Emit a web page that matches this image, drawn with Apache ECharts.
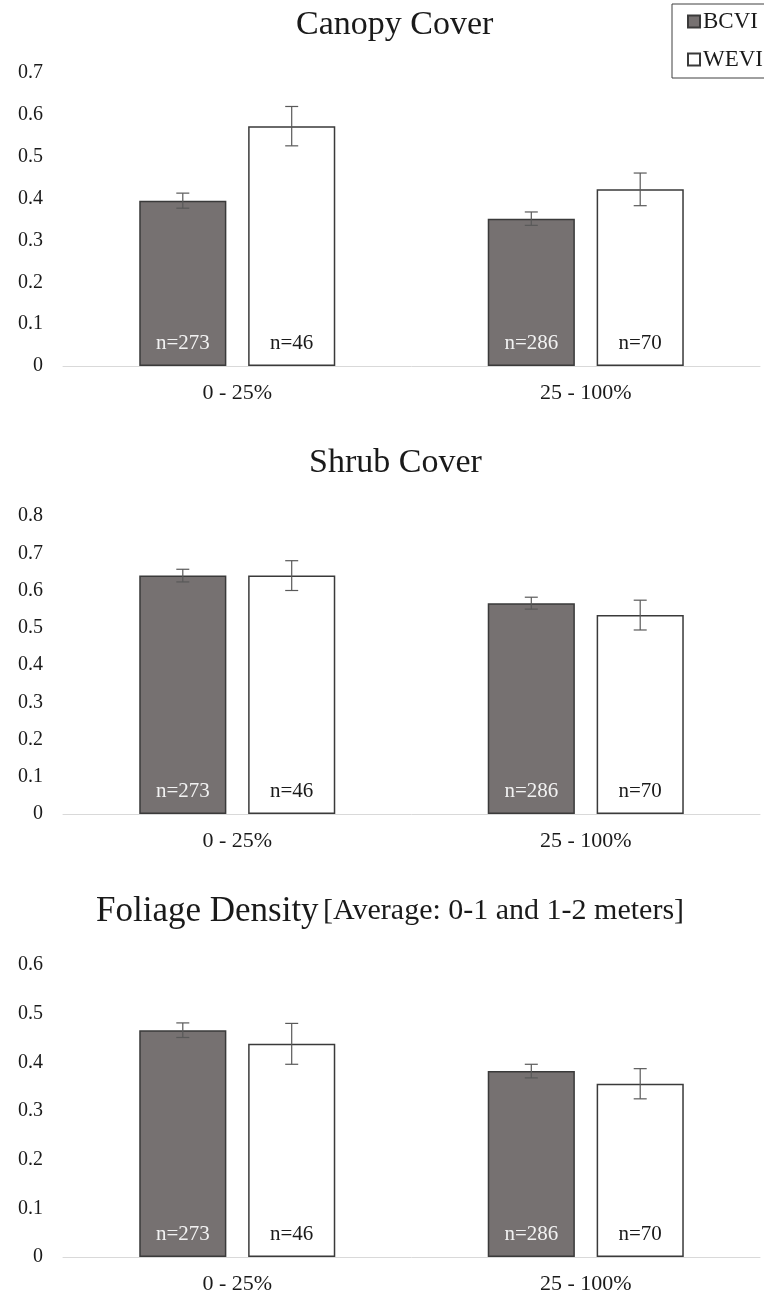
<!DOCTYPE html>
<html>
<head>
<meta charset="utf-8">
<title>Canopy, Shrub, Foliage</title>
<script src="https://cdn.jsdelivr.net/npm/echarts@6/dist/echarts.min.js"></script>
<style>
  html, body { margin: 0; padding: 0; background: #fff; }
  #main { width: 764px; height: 1297px; }
</style>
</head>
<body>
<div id="main"></div>
<script>
// data
var categories = ['0 - 25%', '25 - 100%'];
var nBCVI = [273, 286];
var nWEVI = [46, 70];

var canopyBCVI = [0.395, 0.352];
var canopyBCVIErr = [0.018, 0.016];
var canopyWEVI = [0.573, 0.422];
var canopyWEVIErr = [0.047, 0.039];

var shrubBCVI = [0.640, 0.566];
var shrubBCVIErr = [0.017, 0.016];
var shrubWEVI = [0.640, 0.534];
var shrubWEVIErr = [0.040, 0.040];

var foliageBCVI = [0.466, 0.382];
var foliageBCVIErr = [0.015, 0.014];
var foliageWEVI = [0.438, 0.356];
var foliageWEVIErr = [0.042, 0.031];

var yMax = [0.7, 0.8, 0.6];

var serif = "'Liberation Serif', 'Times New Roman', serif";
var textColor = '#1a1a1a';

var chart = echarts.init(document.getElementById('main'));

// one panel = grid + axes + 2 bar series + error bars
var grids = [
  { left: 63, right: 4, top: 73, height: 293 },
  { left: 63, right: 4, top: 516, height: 298 },
  { left: 63, right: 4, top: 965, height: 292 }
];

var panels = [
  [canopyBCVI, canopyBCVIErr, canopyWEVI, canopyWEVIErr],
  [shrubBCVI, shrubBCVIErr, shrubWEVI, shrubWEVIErr],
  [foliageBCVI, foliageBCVIErr, foliageWEVI, foliageWEVIErr]
];

var xAxes = [], yAxes = [], series = [];

function errorBars(params, api) {
  var cat = api.value(0);
  var mid = api.coord([cat, api.value(1)]);
  var hi = api.coord([cat, api.value(1) + api.value(2)]);
  var lo = api.coord([cat, api.value(1) - api.value(2)]);
  var bw = api.size([1, 0])[0] * 0.25;
  var x = mid[0] + (api.value(3) === 0 ? -0.625 : 0.625) * bw;
  var cap = 6.5;
  var st = { stroke: '#595959', lineWidth: 1.2 };
  return {
    type: 'group',
    children: [
      { type: 'line', shape: { x1: x, y1: hi[1], x2: x, y2: lo[1] }, style: st },
      { type: 'line', shape: { x1: x - cap, y1: hi[1], x2: x + cap, y2: hi[1] }, style: st },
      { type: 'line', shape: { x1: x - cap, y1: lo[1], x2: x + cap, y2: lo[1] }, style: st }
    ]
  };
}

panels.forEach(function (p, i) {
  xAxes.push({
    type: 'category',
    gridIndex: i,
    data: categories,
    axisLine: { lineStyle: { color: '#d9d9d9', width: 1 } },
    axisTick: { show: false },
    axisLabel: { fontFamily: serif, fontSize: 22, color: textColor, margin: 16 }
  });
  yAxes.push({
    type: 'value',
    gridIndex: i,
    min: 0,
    max: yMax[i],
    interval: 0.1,
    splitLine: { show: false },
    axisLine: { show: false },
    axisTick: { show: false },
    axisLabel: {
      fontFamily: serif, fontSize: 20, color: textColor, margin: 20,
      formatter: function (v) { return v === 0 ? '0' : v.toFixed(1); }
    }
  });

  series.push({
    name: 'BCVI',
    type: 'bar',
    xAxisIndex: i,
    yAxisIndex: i,
    barWidth: '25%',
    barGap: '25%',
    data: p[0],
    itemStyle: { color: '#767171', borderColor: '#3a3a3a', borderWidth: 1.5 },
    label: {
      show: true, position: 'insideBottom', distance: 12,
      fontFamily: serif, fontSize: 21, color: '#f2f2f2',
      formatter: function (d) { return 'n=' + nBCVI[d.dataIndex]; }
    }
  });
  series.push({
    name: 'WEVI',
    type: 'bar',
    xAxisIndex: i,
    yAxisIndex: i,
    barWidth: '25%',
    barGap: '25%',
    data: p[2],
    itemStyle: { color: '#ffffff', borderColor: '#3a3a3a', borderWidth: 1.5 },
    label: {
      show: true, position: 'insideBottom', distance: 12,
      fontFamily: serif, fontSize: 21, color: textColor,
      formatter: function (d) { return 'n=' + nWEVI[d.dataIndex]; }
    }
  });

  var errData = [];
  categories.forEach(function (c, k) {
    errData.push([k, p[0][k], p[1][k], 0]);
    errData.push([k, p[2][k], p[3][k], 1]);
  });
  series.push({
    type: 'custom',
    xAxisIndex: i,
    yAxisIndex: i,
    z: 5,
    silent: true,
    encode: { x: 0, y: 1 },
    renderItem: errorBars,
    data: errData
  });
});

var titleText = { fontFamily: serif, fontSize: 34, fontWeight: 'normal', color: textColor };

var option = {
  backgroundColor: '#ffffff',
  animation: false,
  title: [
    { text: 'Canopy Cover', left: 296, top: 8, padding: 0, textStyle: titleText },
    { text: 'Shrub Cover', left: 309, top: 446, padding: 0, textStyle: titleText },
    {
      text: '{a|Foliage Density} {b|[Average: 0-1 and 1-2 meters]}',
      left: 96, top: 894, padding: 0,
      textStyle: {
        fontFamily: serif, fontWeight: 'normal', color: textColor,
        rich: {
          a: { fontFamily: serif, fontSize: 35, fontWeight: 'normal', color: textColor },
          b: { fontFamily: serif, fontSize: 30, fontWeight: 'normal', color: textColor }
        }
      }
    }
  ],
  legend: {
    data: ['BCVI', 'WEVI'],
    orient: 'vertical',
    left: 672,
    top: 4,
    padding: [6, 20, 7, 15],
    borderColor: '#404040',
    borderWidth: 1,
    itemWidth: 12,
    itemHeight: 12,
    itemGap: 15,
    icon: 'rect',
    selectedMode: false,
    textStyle: { fontFamily: serif, fontSize: 23, color: textColor, padding: [0, 0, 0, -2] }
  },
  grid: grids,
  xAxis: xAxes,
  yAxis: yAxes,
  series: series
};

chart.setOption(option);
</script>
</body>
</html>
